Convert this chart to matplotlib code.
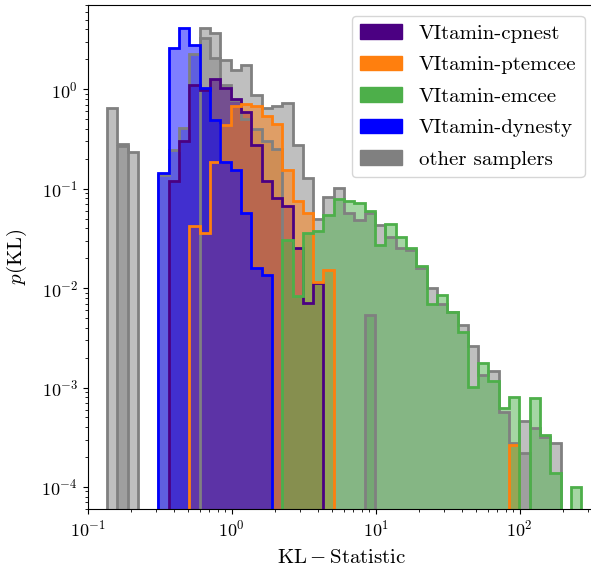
import numpy as np
import matplotlib
matplotlib.use("Agg")
import matplotlib.pyplot as plt
from matplotlib.patches import Patch

plt.rcParams['font.family'] = 'serif'
plt.rcParams['font.serif'] = ['cmr10']
plt.rcParams['mathtext.fontset'] = 'cm'
plt.rcParams['axes.formatter.use_mathtext'] = True

# common log-spaced KL bins shared by every histogram
kl_min, kl_max, n_bins = 0.136, 268.0, 46
bins = np.logspace(np.log10(kl_min), np.log10(kl_max), n_bins + 1)


def place(start, vals):
    # densities for bins start, start+1, ... (other bins empty)
    out = np.zeros(n_bins)
    out[start:start + len(vals)] = vals
    return out


# VItamin vs each sampler (densities read per bin)
cpnest = place(6, [0.1185, 0.299, 1.115, 0.993, 1.27, 1.04, 0.80, 0.586,
                   0.273, 0.120, 0.081, 0.0675, 0.0253, 0.00706, 0.01127])
ptemcee = place(8, [0.0417, 0.0358, 0.185, 0.441, 0.685, 0.718, 0.685, 0.543,
                    0.452, 0.155, 0.0745, 0.0573, 0.01165, 0.01504])
ptemcee[39] = 2.64e-4
emcee = place(17, [0.0307, 0.00842, 0.0358, 0.0372, 0.0547, 0.0788, 0.0745,
                   0.0723, 0.0591, 0.0269, 0.0444, 0.0326, 0.0253, 0.0165,
                   0.00695, 0.00857, 0.00581, 0.00366, 0.00102, 0.00176,
                   0.00115, 0.000628, 0.000798, 0.0, 0.000780, 0.000333,
                   0.000139, 0.0, 0.0001005])
dynesty = place(5, [0.144, 2.59, 4.18, 2.80, 1.02, 0.492, 0.184, 0.156,
                    0.0569, 0.0159, 0.0136])

# other samplers compared against each other
other_a = place(5, [0.138, 0.247, 0.411, 2.24, 4.18, 3.68, 1.99, 1.58, 1.77,
                    0.874, 0.650, 0.685, 0.726, 0.277, 0.128, 0.0499, 0.0831,
                    0.1005, 0.0573, 0.0487, 0.0573, 0.0434, 0.0326, 0.0253,
                    0.0243, 0.0160, 0.0100, 0.00695, 0.00577, 0.00427,
                    0.00262, 0.00134, 0.00148, 0.000568, 0.000275, 0.000464,
                    0.000389, 0.000318, 0.000279])
other_b = place(9, [3.26, 2.05, 1.11, 0.788, 0.50, 0.40, 0.30, 0.25])
other_b[1] = 0.271
other_c = place(0, [0.650, 0.284, 0.232])
other_c[25] = 0.00538
other_c[40] = 0.000221

samplers = ['VItamin-cpnest', 'VItamin-ptemcee', 'VItamin-emcee', 'VItamin-dynesty']
colours = ['indigo', '#ff7f0e', '#4daf4a', 'blue']
series = [cpnest, ptemcee, emcee, dynesty]
others = [other_a, other_b, other_c]

centres = np.sqrt(bins[:-1] * bins[1:])

fig = plt.figure(figsize=(5.91, 5.68), dpi=100)
ax = fig.add_axes([0.1484, 0.1039, 0.8584, 0.8868])
ax.set_xscale('log')
ax.set_yscale('log', nonpositive='clip')

for vals in others:
    ax.hist(centres, bins=bins, weights=vals, histtype='stepfilled',
            color='grey', alpha=0.5)
    ax.hist(centres, bins=bins, weights=vals, histtype='step',
            color='grey', lw=2)

for vals, c in zip(series, colours):
    ax.hist(centres, bins=bins, weights=vals, histtype='stepfilled',
            color=c, alpha=0.5)
for vals, c in zip(series, colours):
    ax.hist(centres, bins=bins, weights=vals, histtype='step', color=c, lw=2)

ax.set_xlim(1e-1, 334)
ax.set_ylim(6e-5, 7)
ax.tick_params(labelsize=13)
ax.set_xlabel(r'$\mathrm{KL-Statistic}$', fontsize=15, labelpad=7)
ax.set_ylabel(r'$p(\mathrm{KL})$', fontsize=15, labelpad=9)

handles = [Patch(color=c) for c in colours] + [Patch(color='grey')]
ax.legend(handles, samplers + ['other samplers'], loc='upper right',
          fontsize=15, labelspacing=0.62)

fig.savefig('out.png', dpi=100)
